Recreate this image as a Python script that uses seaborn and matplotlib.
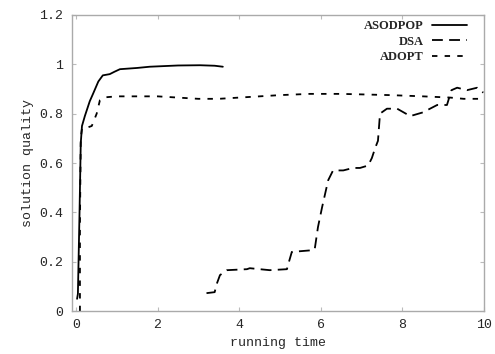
import pandas as pd
import matplotlib
matplotlib.use("Agg")
import matplotlib.pyplot as plt
import seaborn as sns

# data
asodpop_t = [0.03, 0.05, 0.09, 0.12, 0.15, 0.22, 0.34, 0.42, 0.55, 0.66, 0.83, 0.95, 1.08, 1.5, 1.81, 2.5, 3.04, 3.4, 3.6]
asodpop_q = [0.05, 0.07, 0.40, 0.68, 0.75, 0.79, 0.85, 0.88, 0.93, 0.955, 0.96, 0.97, 0.98, 0.985, 0.99, 0.995, 0.996, 0.994, 0.99]

dsa_t = [3.2, 3.4, 3.45, 3.53, 3.7, 4.19, 4.26, 4.75, 5.17, 5.22, 5.29, 5.8, 5.85, 5.93, 6.03, 6.18, 6.3, 6.55, 6.79, 6.96,
         7.16, 7.25, 7.33, 7.4, 7.45, 7.62, 7.87, 8.19, 8.5, 8.85, 9.09, 9.2, 9.34, 9.58, 9.83, 9.98]
dsa_q = [0.073, 0.077, 0.11, 0.146, 0.166, 0.17, 0.174, 0.166, 0.17, 0.20, 0.24, 0.247, 0.25, 0.34, 0.42, 0.53, 0.57, 0.57, 0.58, 0.58,
         0.59, 0.62, 0.66, 0.69, 0.80, 0.82, 0.82, 0.79, 0.805, 0.835, 0.835, 0.895, 0.905, 0.895, 0.905, 0.885]

adopt_t = [0.1, 0.1, 0.12, 0.15, 0.22, 0.39, 0.51, 0.59, 0.71, 1.0, 1.5, 2.0, 2.5, 3.0, 3.5, 4.0, 5.0, 5.73, 6.5, 7.7, 8.5, 9.17, 9.5, 9.9]
adopt_q = [0.0, 0.35, 0.70, 0.74, 0.74, 0.75, 0.80, 0.855, 0.866, 0.87, 0.87, 0.87, 0.865, 0.86, 0.86, 0.865, 0.875, 0.88, 0.88, 0.875, 0.87, 0.865, 0.86, 0.86]

x_ticks = [0, 2, 4, 6, 8, 10]
y_ticks = [0, 0.2, 0.4, 0.6, 0.8, 1.0, 1.2]
y_tick_labels = ["0", "0.2", "0.4", "0.6", "0.8", "1", "1.2"]

df = pd.concat([
    pd.DataFrame({"t": asodpop_t, "q": asodpop_q, "algo": "ASODPOP"}),
    pd.DataFrame({"t": dsa_t, "q": dsa_q, "algo": "DSA"}),
    pd.DataFrame({"t": adopt_t, "q": adopt_q, "algo": "ADOPT"}),
])

sns.set_style("ticks")
plt.rcParams["font.family"] = ["Liberation Mono", "DejaVu Sans Mono"]

fig = plt.figure(figsize=(4.95, 3.54), dpi=100)
ax = fig.add_axes([0.145, 0.121, 0.833, 0.837])

styles = {"ASODPOP": "-", "DSA": (0, (6, 3.5)), "ADOPT": (0, (3, 4))}
for name in ["ASODPOP", "DSA", "ADOPT"]:
    sns.lineplot(data=df[df["algo"] == name], x="t", y="q", ax=ax, color="black",
                 linewidth=1.3, linestyle=styles[name], label=name, sort=False,
                 estimator=None)

ax.set_xlim(-0.1, 10)
ax.set_ylim(0, 1.2)
ax.set_xticks(x_ticks)
ax.set_xticklabels([str(v) for v in x_ticks])
ax.set_yticks(y_ticks)
ax.set_yticklabels(y_tick_labels)
ax.tick_params(direction="in", length=3, color="#bbbbbb", labelsize=9.5, top=True, right=True, pad=6)
for s in ax.spines.values():
    s.set_color("#aaaaaa")
    s.set_linewidth(1.0)
ax.set_xlabel("running time", fontsize=9.5)
ax.set_ylabel("solution quality", fontsize=9.5)

leg = ax.legend(loc="upper right", bbox_to_anchor=(0.959, 0.983), frameon=False, markerfirst=False,
                handlelength=2.8, handletextpad=0.7, labelspacing=0.3, borderpad=0, borderaxespad=0,
                prop={"family": "Liberation Serif", "size": 9, "weight": "bold"})

fig.savefig("out.png", dpi=100)
